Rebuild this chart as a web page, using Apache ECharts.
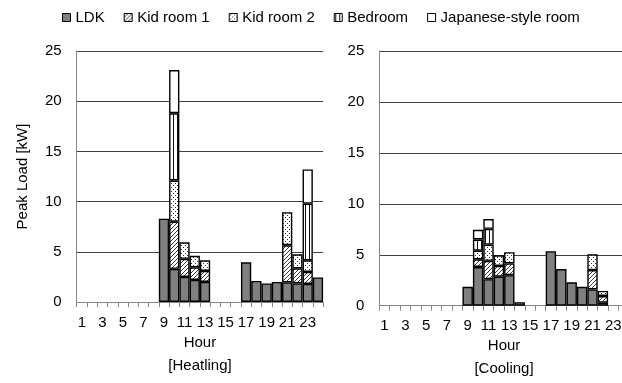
<!DOCTYPE html>
<html>
<head>
<meta charset="utf-8">
<script src="https://cdn.jsdelivr.net/npm/echarts@6/dist/echarts.min.js"></script>
<style>
  html, body { margin: 0; padding: 0; background: #fff; }
  #chart { width: 622px; height: 383px; }
</style>
</head>
<body>
<div id="chart"></div>
<script>
// Hourly peak load per room [kW]
const hours = ['1','2','3','4','5','6','7','8','9','10','11','12','13','14','15','16','17','18','19','20','21','22','23','24'];
const roomNames = ['LDK', 'Kid room 1', 'Kid room 2', 'Bedroom', 'Japanese-style room'];

// Heating
const heatLDK  = [0,0,0,0,0,0,0,0, 8.3, 3.3, 2.5, 2.2, 2.0, 0,0,0, 3.95, 2.1, 1.85, 2.0, 1.95, 1.85, 1.8, 2.45];
const heatKid1 = [0,0,0,0,0,0,0,0, 0, 4.7, 1.8, 1.25, 1.1, 0,0,0, 0, 0, 0, 0, 3.7, 1.5, 1.2, 0];
const heatKid2 = [0,0,0,0,0,0,0,0, 0, 4.1, 1.65, 1.15, 1.05, 0,0,0, 0, 0, 0, 0, 3.3, 1.4, 1.15, 0];
const heatBed  = [0,0,0,0,0,0,0,0, 0, 6.7, 0, 0, 0, 0,0,0, 0, 0, 0, 0, 0, 0, 5.65, 0];
const heatJap  = [0,0,0,0,0,0,0,0, 0, 4.3, 0, 0, 0, 0,0,0, 0, 0, 0, 0, 0, 0, 3.4, 0];

// Cooling
const coolLDK  = [0,0,0,0,0,0,0,0, 1.85, 3.8, 2.6, 2.85, 3.0, 0.35, 0, 0, 5.35, 3.6, 2.3, 1.85, 1.6, 0.3, 0, 0];
const coolKid1 = [0,0,0,0,0,0,0,0, 0, 0.75, 1.8, 1.05, 1.15, 0, 0, 0, 0, 0, 0, 0, 1.9, 0.65, 0, 0];
const coolKid2 = [0,0,0,0,0,0,0,0, 0, 0.85, 1.6, 1.05, 1.1, 0, 0, 0, 0, 0, 0, 0, 1.55, 0.5, 0, 0];
const coolBed  = [0,0,0,0,0,0,0,0, 0, 1.1, 1.55, 0, 0, 0, 0, 0, 0, 0, 0, 0, 0, 0, 0, 0];
const coolJap  = [0,0,0,0,0,0,0,0, 0, 0.95, 0.95, 0, 0, 0, 0, 0, 0, 0, 0, 0, 0, 0, 0, 0];

const yTicks = [0, 5, 10, 15, 20, 25];

// Fill patterns drawn onto small tiles
function tile(w, h, draw) {
  const c = document.createElement('canvas');
  c.width = w; c.height = h;
  const g = c.getContext('2d');
  g.fillStyle = '#fff';
  g.fillRect(0, 0, w, h);
  draw(g);
  return { image: c, repeat: 'repeat' };
}
const fillHatch = tile(4, 4, g => {
  g.fillStyle = '#3a3a3a';
  g.fillRect(3, 0, 1, 1); g.fillRect(2, 1, 1, 1); g.fillRect(1, 2, 1, 1); g.fillRect(0, 3, 1, 1);
});
const fillDots = tile(4, 4, g => {
  g.fillStyle = '#303030';
  g.fillRect(1, 1, 1, 1); g.fillRect(3, 3, 1, 1);
});
const fillStripes = tile(4, 2, g => {
  g.fillStyle = '#111';
  g.fillRect(1, 0, 1, 2);
});
const roomFills = ['#808080', fillHatch, fillDots, fillStripes, '#ffffff'];

const heatData = [heatLDK, heatKid1, heatKid2, heatBed, heatJap];
const coolData = [coolLDK, coolKid1, coolKid2, coolBed, coolJap];

const FONT = 'Liberation Sans, Arial, sans-serif';

function makeSeries(dataSets, idx, stackName) {
  return dataSets.map((vals, i) => ({
    name: roomNames[i],
    type: 'bar',
    stack: stackName,
    xAxisIndex: idx,
    yAxisIndex: idx,
    barCategoryGap: '0%',
    barGap: '0%',
    itemStyle: { color: roomFills[i], borderColor: '#000', borderWidth: 1.4 },
    emphasis: { disabled: true },
    data: vals.map(v => (v === 0 ? null : v))
  }));
}

function xAxis(gridIndex) {
  return {
    type: 'category',
    gridIndex: gridIndex,
    data: hours,
    boundaryGap: true,
    name: 'Hour',
    nameLocation: 'middle',
    nameGap: 26,
    nameTextStyle: { fontFamily: FONT, fontSize: 15, color: '#000' },
    axisLine: { show: true, lineStyle: { color: '#868686', width: 1 } },
    axisTick: { show: true, interval: 0, length: 5, lineStyle: { color: '#868686' } },
    axisLabel: { interval: 1, margin: 13, fontFamily: FONT, fontSize: 15, color: '#000', hideOverlap: false },
    splitLine: { show: false }
  };
}

function yAxis(gridIndex, withName) {
  const ax = {
    type: 'value',
    gridIndex: gridIndex,
    min: yTicks[0],
    max: yTicks[yTicks.length - 1],
    interval: yTicks[1] - yTicks[0],
    axisLine: { show: true, lineStyle: { color: '#868686', width: 1 } },
    axisTick: { show: false },
    axisLabel: { margin: 15, fontFamily: FONT, fontSize: 15, color: '#000' },
    splitLine: { show: true, lineStyle: { color: '#404040', width: 1 } }
  };
  if (withName) {
    ax.name = 'Peak Load [kW]';
    ax.nameLocation = 'middle';
    ax.nameGap = 46;
    ax.nameTextStyle = { fontFamily: FONT, fontSize: 15, color: '#000' };
  }
  return ax;
}

const chart = echarts.init(document.getElementById('chart'), null, { renderer: 'canvas' });
chart.setOption({
  animation: false,
  backgroundColor: '#fff',
  legend: {
    left: 57,
    top: 5,
    itemWidth: 8,
    itemHeight: 8,
    itemGap: 19,
    icon: 'rect',
    data: roomNames,
    itemStyle: { borderColor: '#000', borderWidth: 1 },
    textStyle: { fontFamily: FONT, fontSize: 15, color: '#000' }
  },
  grid: [
    { left: 76.7, top: 51, width: 246.4, height: 251, outerBoundsMode: 'none', containLabel: false },
    { left: 379.3, top: 51, width: 249.6, height: 254.7, outerBoundsMode: 'none', containLabel: false }
  ],
  xAxis: [xAxis(0), xAxis(1)],
  yAxis: [yAxis(0, true), yAxis(1, false)],
  series: makeSeries(heatData, 0, 'heat').concat(makeSeries(coolData, 1, 'cool')),
  graphic: [
    { type: 'text', x: 200, y: 366, style: { text: '[Heatling]', font: '15px ' + FONT, fill: '#000', textAlign: 'center', textVerticalAlign: 'middle' } },
    { type: 'text', x: 504, y: 369, style: { text: '[Cooling]', font: '15px ' + FONT, fill: '#000', textAlign: 'center', textVerticalAlign: 'middle' } }
  ]
});
</script>
</body>
</html>
